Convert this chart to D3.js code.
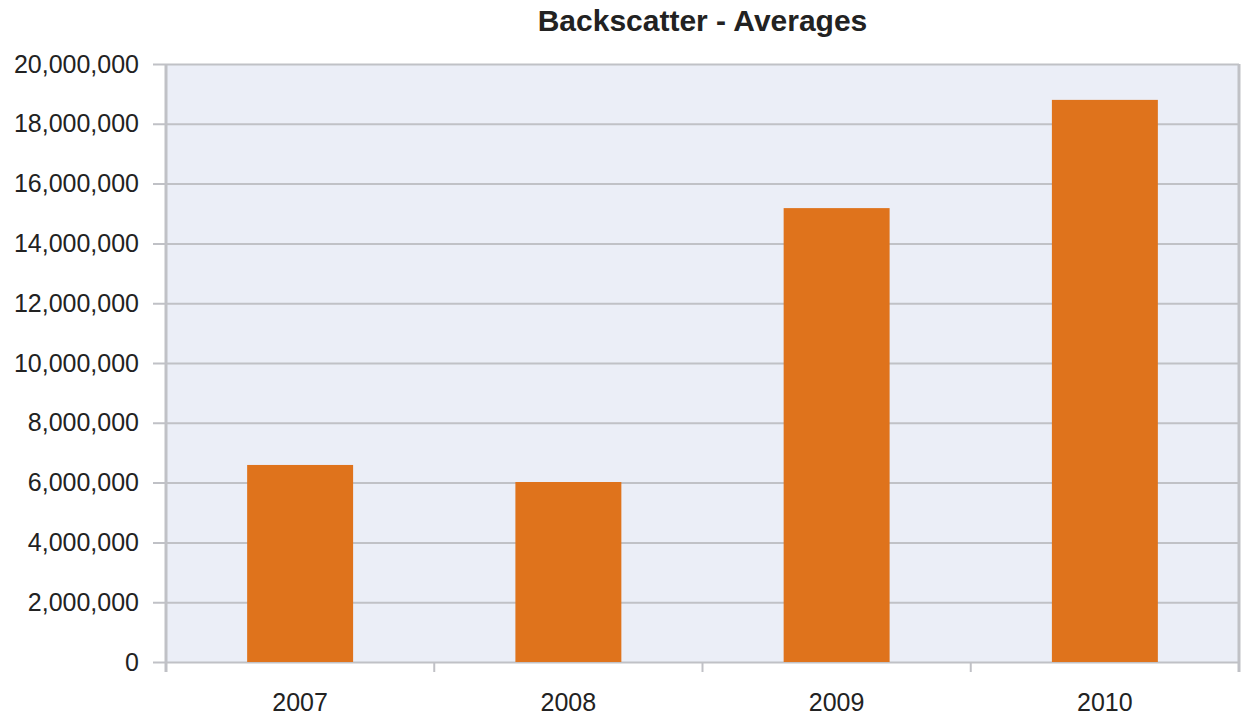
<!DOCTYPE html>
<html>
<head>
<meta charset="utf-8">
<script src="https://cdn.jsdelivr.net/npm/d3@7"></script>
<style>
  body { margin: 0; background: #fff; }
  svg { display: block; font-family: "Liberation Sans", Arial, sans-serif; }
</style>
</head>
<body>
<svg id="chart" width="1241" height="716"></svg>
<script>
var years = ['2007', '2008', '2009', '2010'];
var averages = [6590000, 6020000, 15180000, 18800000];
var yTicks = [0, 2000000, 4000000, 6000000, 8000000, 10000000, 12000000, 14000000, 16000000, 18000000, 20000000];

var margin = { top: 64, right: 2, bottom: 54, left: 166 };
var width = 1241 - margin.left - margin.right;
var height = 716 - margin.top - margin.bottom;

var svg = d3.select('#chart');
var g = svg.append('g').attr('transform', 'translate(' + margin.left + ',' + margin.top + ')');

var x = d3.scaleBand()
  .domain(years)
  .range([0, width])
  .paddingInner(0.605)
  .paddingOuter(0.3025);

var y = d3.scaleLinear()
  .domain([0, 20000000])
  .range([height, 0]);

// plot background
g.append('rect')
  .attr('width', width)
  .attr('height', height)
  .attr('fill', '#ebeef7');

// grid lines + y ticks
var yAxis = g.append('g')
  .call(d3.axisLeft(y)
    .tickValues(yTicks)
    .tickSize(-width)
    .tickPadding(27)
    .tickFormat(d3.format(',')));
yAxis.select('.domain').remove();
yAxis.selectAll('.tick line')
  .attr('x1', -13)
  .attr('stroke', '#c0c1c6')
  .attr('stroke-width', 2);
yAxis.selectAll('.tick text')
  .attr('fill', '#222')
  .attr('font-size', 25);

// bars
g.selectAll('.bar')
  .data(averages)
  .enter().append('rect')
    .attr('class', 'bar')
    .attr('x', (d, i) => x(years[i]))
    .attr('y', d => y(d))
    .attr('width', x.bandwidth())
    .attr('height', d => height - y(d))
    .attr('fill', '#df731c');

// left and right borders
g.append('line')
  .attr('x1', 0).attr('x2', 0)
  .attr('y1', 0).attr('y2', height + 10)
  .attr('stroke', '#c0c1c6').attr('stroke-width', 3);
g.append('line')
  .attr('x1', width).attr('x2', width)
  .attr('y1', 0).attr('y2', height + 10)
  .attr('stroke', '#c0c1c6').attr('stroke-width', 3);

// category separators on the x axis
g.selectAll('.sep')
  .data(years.slice(1))
  .enter().append('line')
    .attr('class', 'sep')
    .attr('x1', d => x(d) - (x.step() - x.bandwidth()) / 2)
    .attr('x2', d => x(d) - (x.step() - x.bandwidth()) / 2)
    .attr('y1', height)
    .attr('y2', height + 10)
    .attr('stroke', '#c0c1c6')
    .attr('stroke-width', 2);

// x labels
g.selectAll('.xlabel')
  .data(years)
  .enter().append('text')
    .attr('class', 'xlabel')
    .attr('x', d => x(d) + x.bandwidth() / 2)
    .attr('y', height + 49)
    .attr('text-anchor', 'middle')
    .attr('fill', '#222')
    .attr('font-size', 25)
    .text(d => d);

// title
svg.append('text')
  .attr('x', margin.left + width / 2)
  .attr('y', 31)
  .attr('text-anchor', 'middle')
  .attr('font-weight', 'bold')
  .attr('font-size', 30)
  .attr('fill', '#222')
  .text('Backscatter - Averages');
</script>
</body>
</html>
